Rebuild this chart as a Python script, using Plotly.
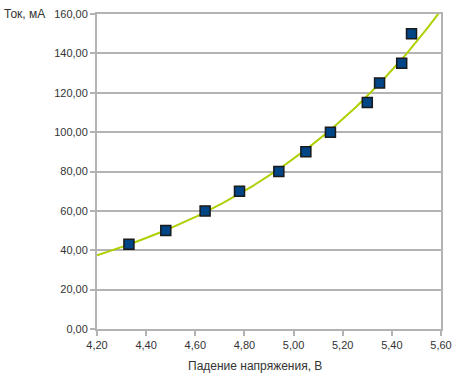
import numpy as np
import plotly.graph_objects as go

voltage = [4.33, 4.48, 4.64, 4.78, 4.94, 5.05, 5.15, 5.30, 5.35, 5.44, 5.48]
current = [43, 50, 60, 70, 80, 90, 100, 115, 125, 135, 150]
x_ticks = [4.2, 4.4, 4.6, 4.8, 5.0, 5.2, 5.4, 5.6]
y_ticks = [0, 20, 40, 60, 80, 100, 120, 140, 160]

def fmt(v):
    return f"{v:.2f}".replace(".", ",")

# exponential trend line (least squares on ln y)
b, lna = np.polyfit(voltage, np.log(current), 1)
xt = np.linspace(4.2, 5.6, 200)
yt = np.exp(lna) * np.exp(b * xt)

fig = go.Figure()
fig.add_trace(go.Scatter(x=xt, y=yt, mode="lines",
                         line=dict(color="#aecf00", width=2), hoverinfo="skip"))
fig.add_trace(go.Scatter(x=voltage, y=current, mode="markers",
                         marker=dict(symbol="square", size=10, color="#004586",
                                     line=dict(color="#1a1a1a", width=1.5))))

font = dict(family="Liberation Sans, Arial, sans-serif", size=11, color="#333333")
fig.update_layout(
    width=460, height=380,
    margin=dict(l=97, r=19, t=14, b=51, autoexpand=False),
    plot_bgcolor="white", paper_bgcolor="white",
    showlegend=False,
    font=font,
)
fig.update_xaxes(range=[4.2, 5.6], tickvals=x_ticks, ticktext=[fmt(v) for v in x_ticks],
                 showgrid=False, showline=True, linecolor="#b3b3b3", linewidth=2,
                 mirror=True, ticks="outside", ticklen=5, tickcolor="#b3b3b3", tickwidth=2,
                 zeroline=False, automargin=False)
fig.update_yaxes(range=[0, 160], tickvals=y_ticks, ticktext=[fmt(v) for v in y_ticks],
                 showgrid=True, gridcolor="#b3b3b3", gridwidth=2,
                 showline=True, linecolor="#b3b3b3", linewidth=2, mirror=True,
                 ticks="outside", ticklen=5, tickcolor="#b3b3b3", tickwidth=2,
                 zeroline=False, automargin=False)
fig.add_annotation(text="Ток, мА", xref="paper", yref="paper", x=-0.276, y=1.0,
                   xanchor="left", yanchor="middle", showarrow=False,
                   font=dict(size=12, color="#333333"))
fig.add_annotation(text="Падение напряжения, В", xref="paper", yref="paper", x=0.459, y=-0.117,
                   xanchor="center", yanchor="middle", showarrow=False,
                   font=dict(size=12, color="#333333"))
fig.write_html("out.html", config={"displayModeBar": False},
               post_script="document.body.style.margin='0';")
